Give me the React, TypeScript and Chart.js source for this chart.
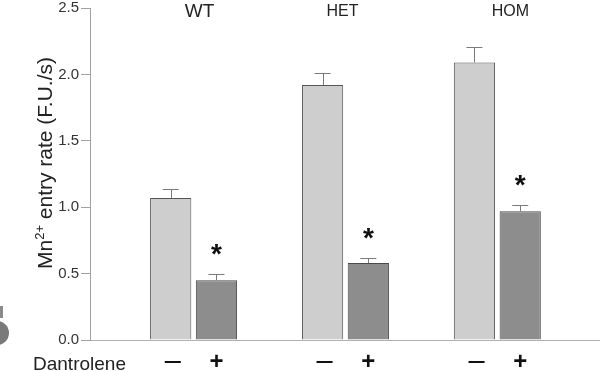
import React, { useEffect, useRef } from "react";
import { Chart, registerables } from "chart.js";

Chart.register(...registerables);

const groups = ["WT", "HET", "HOM"];
const treatmentLabels = ["–", "+"];
const controlMeans = [1.07, 1.92, 2.09];
const controlErrors = [0.07, 0.09, 0.12];
const dantroleneMeans = [0.45, 0.58, 0.97];
const dantroleneErrors = [0.045, 0.035, 0.05];
const significant = [true, true, true];
const yTitleMain = "Mn";
const yTitleSup = "2+";
const yTitleRest = " entry rate (F.U./s)";
const xLabel = "Dantrolene";

const FONT = "'Liberation Sans', Arial, Helvetica, sans-serif";
const groupLabelNudge = [6, -3, 13];

const errorsBySet = [controlErrors, dantroleneErrors];
const meansBySet = [controlMeans, dantroleneMeans];

const annotatePlugin = {
  id: "annotate",
  beforeDraw(chart: any) {
    const { ctx } = chart;
    ctx.save();
    ctx.fillStyle = "#ffffff";
    ctx.fillRect(0, 0, chart.width, chart.height);
    // cropped neighbouring panel remnant at the left edge
    ctx.fillStyle = "#7a7a7a";
    ctx.beginPath();
    ctx.arc(-3, 333, 12, 0, Math.PI * 2);
    ctx.fill();
    ctx.fillStyle = "#8a8a8a";
    ctx.fillRect(0, 306, 3, 12);
    ctx.restore();
  },
  afterDatasetsDraw(chart: any) {
    const { ctx } = chart;
    const yScale = chart.scales.y;
    ctx.save();
    // error bars
    chart.data.datasets.forEach((ds: any, di: number) => {
      const meta = chart.getDatasetMeta(di);
      meta.data.forEach((el: any, i: number) => {
        const top = yScale.getPixelForValue(meansBySet[di][i] + errorsBySet[di][i]);
        ctx.strokeStyle = "#7a7a7a";
        ctx.lineWidth = 1;
        ctx.beginPath();
        ctx.moveTo(Math.round(el.x) + 0.5, el.y);
        ctx.lineTo(Math.round(el.x) + 0.5, Math.round(top) + 0.5);
        ctx.moveTo(el.x - 8, Math.round(top) + 0.5);
        ctx.lineTo(el.x + 8, Math.round(top) + 0.5);
        ctx.stroke();
        if (di === 1 && significant[i]) {
          ctx.fillStyle = "#111";
          ctx.font = `bold 28px ${FONT}`;
          ctx.textAlign = "center";
          ctx.textBaseline = "alphabetic";
          ctx.fillText("*", el.x, top - 24 + 13);
        }
      });
    });
    // group labels on top
    const m0 = chart.getDatasetMeta(0);
    const m1 = chart.getDatasetMeta(1);
    groups.forEach((g, i) => {
      const cx = (m0.data[i].x + m1.data[i].x) / 2 + groupLabelNudge[i];
      ctx.fillStyle = "#222";
      ctx.font = `${i === 0 ? 19 : 16}px ${FONT}`;
      ctx.textAlign = "center";
      ctx.textBaseline = "middle";
      ctx.fillText(g, cx, 12);
    });
    // treatment labels below axis
    const bottom = chart.chartArea.bottom;
    [m0, m1].forEach((m: any, di: number) => {
      m.data.forEach((el: any) => {
        ctx.fillStyle = "#111";
        ctx.font = di === 0 ? `29px ${FONT}` : `bold 24px ${FONT}`;
        ctx.textAlign = "center";
        ctx.textBaseline = "middle";
        ctx.fillText(treatmentLabels[di], el.x + (di === 0 ? 2 : 0), bottom + 22);
      });
    });
    // x label
    ctx.fillStyle = "#222";
    ctx.font = `19px ${FONT}`;
    ctx.textAlign = "left";
    ctx.textBaseline = "alphabetic";
    ctx.fillText(xLabel, 33, bottom + 30);
    // y title with superscript
    ctx.translate(52, 163);
    ctx.rotate(-Math.PI / 2);
    const mainFont = `21px ${FONT}`;
    const supFont = `13px ${FONT}`;
    ctx.font = mainFont;
    const w1 = ctx.measureText(yTitleMain).width;
    const w3 = ctx.measureText(yTitleRest).width;
    ctx.font = supFont;
    const w2 = ctx.measureText(yTitleSup).width;
    let x = -(w1 + w2 + w3) / 2;
    ctx.fillStyle = "#222";
    ctx.textAlign = "left";
    ctx.textBaseline = "alphabetic";
    ctx.font = mainFont;
    ctx.fillText(yTitleMain, x, 0);
    x += w1;
    ctx.font = supFont;
    ctx.fillText(yTitleSup, x, -8);
    x += w2;
    ctx.font = mainFont;
    ctx.fillText(yTitleRest, x, 0);
    ctx.restore();
  },
};

export default function App() {
  const ref = useRef<HTMLCanvasElement | null>(null);
  useEffect(() => {
    if (!ref.current) return;
    const chart = new Chart(ref.current, {
      type: "bar",
      data: {
        datasets: [
          {
            label: treatmentLabels[0],
            data: controlMeans.map((v, i) => ({ x: i + 1, y: v })),
            backgroundColor: "#cecece",
            borderColor: "#555555",
            borderWidth: 1,
            categoryPercentage: 0.6026,
            barPercentage: 0.901,
          },
          {
            label: treatmentLabels[1],
            data: dantroleneMeans.map((v, i) => ({ x: i + 1, y: v })),
            backgroundColor: "#8d8d8d",
            borderColor: "#4a4a4a",
            borderWidth: 1,
            categoryPercentage: 0.6026,
            barPercentage: 0.901,
          },
        ] as any,
      },
      options: {
        animation: false,
        responsive: false,
        devicePixelRatio: 1,
        layout: { padding: { left: 0, right: 0, top: 8, bottom: 31 } },
        plugins: { legend: { display: false }, tooltip: { enabled: false } },
        scales: {
          x: {
            type: "linear",
            offset: false,
            min: 0.318,
            max: 3.676,
            ticks: { display: false },
            grid: { display: false },
            border: { display: true, color: "#b0b0b0", width: 1 },
            afterBuildTicks: (s: any) => {
              s.ticks = groups.map((_, i) => ({ value: i + 1 }));
            },
            afterFit: (s: any) => {
              s.height = 0;
              s.paddingLeft = 0;
              s.paddingRight = 0;
            },
          },
          y: {
            min: 0,
            max: 2.5,
            ticks: {
              stepSize: 0.5,
              padding: 2,
              color: "#333",
              font: { family: FONT, size: 15 },
              callback: (v: any) => Number(v).toFixed(1),
            },
            grid: { drawOnChartArea: false, tickLength: 9, color: "#a0a0a0" },
            border: { display: true, color: "#a0a0a0", width: 1 },
            afterFit: (s: any) => {
              s.width = 90;
              s.paddingTop = 0;
              s.paddingBottom = 0;
            },
          },
        },
      } as any,
      plugins: [annotatePlugin],
    });
    return () => chart.destroy();
  }, []);
  return (
    <div style={{ position: "absolute", left: 0, top: 0, width: 600, height: 371 }}>
      <canvas ref={ref} width={600} height={371} />
    </div>
  );
}
